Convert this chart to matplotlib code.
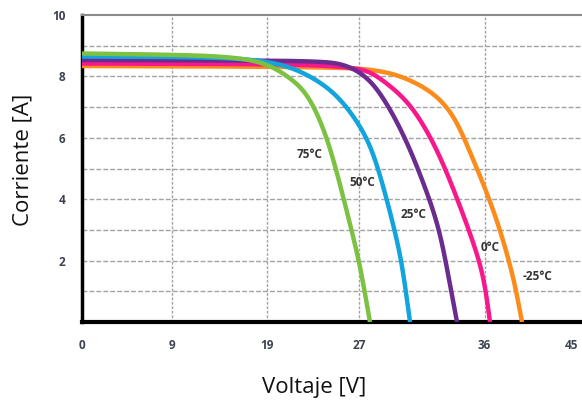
import matplotlib
matplotlib.use("Agg")
import matplotlib.pyplot as plt
import numpy as np

plt.rcParams['font.family'] = ['Open Sans', 'DejaVu Sans']

# ---- data (axis units: x 0..45, y current in A) ----
labels = ["75°C", "50°C", "25°C", "0°C", "-25°C"]
colors = ["#7cc242", "#12a4dc", "#6a2c8e", "#f7198b", "#fb8c1c"]

x_75 = [0, 10.73, 14.36, 16.64, 18.45, 20.27, 21.55, 22.64, 23.82, 24.73, 25.36, 26.18]
y_75 = [8.746, 8.697, 8.599, 8.436, 8.078, 7.557, 6.678, 5.603, 3.974, 2.671, 1.694, 0.0]

x_50 = [0, 10.73, 15.27, 18.0, 20.09, 22.82, 25.0, 26.45, 27.73, 28.64, 29.18, 29.82]
y_50 = [8.648, 8.632, 8.567, 8.404, 8.143, 7.557, 6.580, 5.603, 3.974, 2.671, 1.694, 0.0]

x_25 = [0, 15.27, 19.82, 22.09, 23.45, 25.0, 26.45, 27.73, 28.73, 29.91, 31.64, 32.55, 33.18, 34.09]
y_25 = [8.534, 8.518, 8.502, 8.469, 8.420, 8.208, 7.785, 7.101, 6.450, 5.570, 3.974, 2.899, 1.759, 0.0]

x_0 = [0, 15.27, 20.73, 23.45, 25.27, 26.45, 28.27, 30.09, 32.27, 34.09, 35.27, 36.09, 36.64, 37.09]
y_0 = [8.420, 8.404, 8.371, 8.322, 8.241, 8.111, 7.622, 7.003, 5.667, 4.039, 2.899, 2.020, 1.205, 0.0]

x_m25 = [0, 15.27, 22.55, 25.27, 27.09, 28.91, 31.64, 33.73, 35.18, 36.82, 38.0, 38.91, 39.45, 40.0]
y_m25 = [8.339, 8.322, 8.290, 8.257, 8.176, 8.029, 7.573, 6.824, 5.619, 4.218, 3.013, 1.873, 1.059, 0.0]

label_x = [20.7, 25.45, 30.1, 37.1, 41.4]
label_y = [5.47, 4.53, 3.49, 2.44, 1.47]

xtick_pos = [0, 8.2, 16.8, 25.2, 36.6, 44.5]
xtick_lab = ["0", "9", "19", "27", "36", "45"]
ytick_pos = [2, 4, 6, 8, 10]

series_x = [x_75, x_50, x_25, x_0, x_m25]
series_y = [y_75, y_50, y_25, y_0, y_m25]


def bspline(xs, ys, n_per=40):
    """Clamped uniform cubic B-spline using the read points as control points
    (smooths small reading noise, passes through both end points)."""
    P = np.column_stack([np.asarray(xs, float), np.asarray(ys, float)])
    P = np.vstack([P[0], P[0], P, P[-1], P[-1]])
    M = np.array([[-1, 3, -3, 1], [3, -6, 3, 0], [-3, 0, 3, 0], [1, 4, 1, 0]]) / 6.0
    t = np.linspace(0, 1, n_per)
    T = np.column_stack([t**3, t**2, t, np.ones_like(t)])
    out = []
    for i in range(len(P) - 3):
        G = P[i:i + 4]
        C = T @ M @ G
        out.append(C if i == 0 else C[1:])
    C = np.vstack(out)
    return C[:, 0], C[:, 1]


fig = plt.figure(figsize=(5.82, 4.04), dpi=100)
ax = fig.add_axes([82/582, 82/404, 500/582, 307/404])
ax.set_xlim(0, 500/11)
ax.set_ylim(0, 10)

# grid
for yv in range(1, 10):
    ax.axhline(yv, color="#a3a3a3", lw=1.0, ls=(0, (3.5, 1.5)), zorder=1)
for xv in xtick_pos[1:-1]:
    ax.axvline(xv, color="#a3a3a3", lw=1.0, ls=(0, (2, 1.2)), zorder=1)

order = [4, 3, 2, 1, 0]
for i in order:
    cx, cy = bspline(series_x[i], series_y[i])
    ax.plot(cx, cy, color=colors[i], lw=3.2, solid_capstyle='butt',
            solid_joinstyle='round', zorder=3 + (4 - i))

for i in range(5):
    ax.text(label_x[i], label_y[i], labels[i], fontsize=8.5, fontweight='bold',
            color="#333333", ha='center', va='center', zorder=10)

ax.set_xticks(xtick_pos)
ax.set_xticklabels(xtick_lab)
ax.set_yticks(ytick_pos)
ax.tick_params(length=0, labelsize=8.5, labelcolor="#3c4250", pad=12)
ax.tick_params(axis='y', pad=12)
for lab in ax.get_xticklabels() + ax.get_yticklabels():
    lab.set_fontweight('bold')

ax.spines['left'].set_linewidth(2.5)
ax.spines['left'].set_color('black')
ax.spines['bottom'].set_linewidth(3.0)
ax.spines['bottom'].set_color('black')
ax.spines['top'].set_linewidth(1.5)
ax.spines['top'].set_color('#8a8a8a')
ax.spines['right'].set_visible(False)

fig.text(314/582, 1 - 388/404, "Voltaje [V]", fontsize=16, ha='center', va='center', color='#111111')
fig.text(23/582, 1 - 160/404, "Corriente [A]", fontsize=16, ha='center', va='center',
         rotation=90, color='#111111')

fig.savefig("out.png", dpi=100)
